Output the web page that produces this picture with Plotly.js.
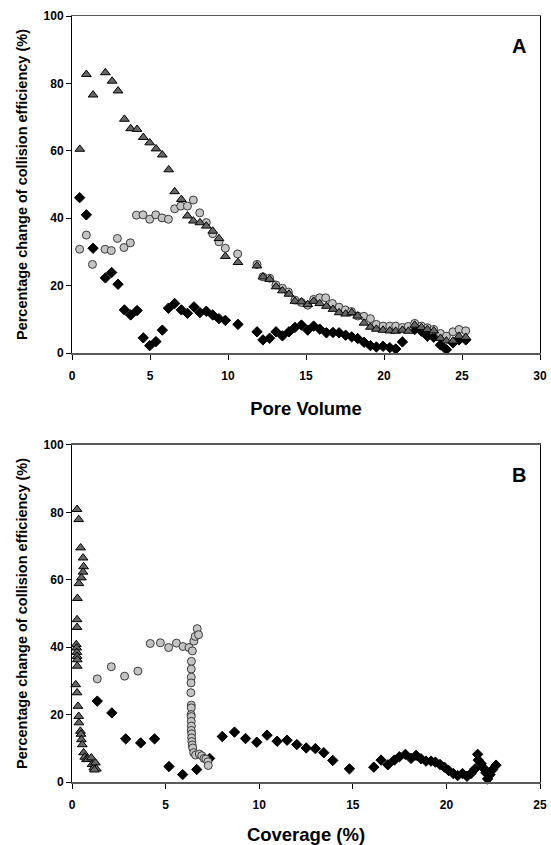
<!DOCTYPE html>
<html>
<head>
<meta charset="utf-8">
<script src="https://cdn.plot.ly/plotly-3.0.1.min.js"></script>
<style>
  html, body { margin: 0; padding: 0; background: #ffffff; }
  #chart { width: 551px; height: 845px; }
</style>
</head>
<body>
<div id="chart"></div>
<script>
// ---- Panel A: collision efficiency change vs. pore volume ----
const aTriX = [0.5, 0.92, 1.35, 2.14, 2.57, 2.95, 3.36, 3.76, 4.17, 4.57, 4.98, 5.39, 5.79, 6.2, 6.58, 7.01, 7.4, 7.78, 8.2, 8.61, 9.02, 9.42, 9.83, 10.64, 11.86, 12.24, 12.67, 13.08, 13.49, 13.91, 14.29, 14.71, 15.11, 15.49, 15.88, 16.31, 16.73, 17.12, 17.54, 17.93, 18.31, 18.72, 19.13, 19.51, 19.94, 20.37, 20.75, 21.18, 21.56, 21.97, 22.4, 22.78, 23.19, 23.62, 24.0, 24.42, 24.81, 25.24];
const aTriY = [60.5, 82.7, 76.6, 83.2, 80.7, 77.8, 69.4, 66.6, 66.4, 64, 62.4, 60.6, 58.8, 54.4, 47.9, 45.6, 40.7, 39.2, 38.7, 37.7, 36.2, 34, 28.7, 26.9, 25.9, 22.6, 21.9, 19.7, 18.5, 17.5, 15.4, 15.2, 14.4, 15.4, 14.7, 13.9, 13, 12, 11.6, 12, 11, 8.9, 7.7, 7.1, 6.8, 6.6, 6.5, 6.8, 6.5, 8.3, 7.6, 7, 6.6, 4.4, 3.6, 3.6, 5, 4.7];

const aCirX = [0.49, 0.92, 1.31, 2.12, 2.52, 2.91, 3.33, 3.74, 4.13, 4.55, 4.98, 5.37, 5.77, 6.18, 6.58, 6.97, 7.4, 7.78, 8.19, 8.61, 9.02, 9.42, 9.83, 10.62, 11.86, 12.24, 12.67, 13.07, 13.49, 13.87, 14.29, 14.71, 15.11, 15.49, 15.88, 16.26, 16.69, 17.12, 17.52, 17.91, 18.31, 18.71, 19.13, 19.51, 19.94, 20.37, 20.75, 21.18, 21.56, 21.97, 22.4, 22.78, 23.19, 23.62, 24.0, 24.42, 24.81, 25.24];
const aCirY = [30.8, 35, 26.3, 30.8, 30.4, 34, 31.3, 32.7, 40.9, 41, 39.7, 41, 40.1, 39.7, 42.8, 43.6, 43.6, 45.4, 41.6, 38.7, 35.4, 33, 31.1, 29.4, 26.3, 22.6, 22.2, 20.2, 19.2, 18.1, 15.7, 15, 14.2, 15.9, 16.4, 16.4, 14.7, 13.6, 12.8, 12.3, 11, 10.9, 10.2, 8.5, 8, 8, 8, 7.6, 7.9, 8.8, 8, 7.5, 7, 5.8, 5, 6.3, 7, 6.6];

const aDiaX = [0.49, 0.92, 1.35, 2.14, 2.54, 2.95, 3.36, 3.76, 4.17, 4.57, 4.98, 5.38, 5.79, 6.18, 6.58, 7.01, 7.4, 7.82, 8.2, 8.61, 9.02, 9.42, 9.83, 10.64, 11.86, 12.24, 12.67, 13.08, 13.49, 13.91, 14.29, 14.71, 15.11, 15.49, 15.88, 16.31, 16.73, 17.12, 17.54, 17.93, 18.31, 18.72, 19.13, 19.51, 19.94, 20.37, 20.75, 21.18, 21.97, 22.4, 22.78, 23.19, 23.62, 24.0, 24.42, 24.81, 25.24];
const aDiaY = [46.1, 41, 31.1, 22.3, 23.9, 20.4, 12.8, 11.3, 12.6, 4.5, 2.2, 3.4, 6.8, 13.3, 14.7, 12.8, 11.8, 13.7, 12, 12.4, 11.3, 10.2, 9.7, 8.5, 6.3, 3.9, 4.4, 6.3, 5.1, 6.3, 7.6, 8.3, 6.8, 8, 7.1, 6, 6.1, 6, 5.3, 4.8, 4.3, 3.2, 2.2, 1.8, 2, 1.6, 1.2, 3.3, 7, 6.5, 5, 4.7, 2.4, 1, 3, 3.9, 3.9];

// ---- Panel B: collision efficiency change vs. coverage ----
const bTriX = [0.27, 0.36, 0.46, 0.59, 0.62, 0.59, 0.5, 0.37, 0.29, 0.27, 0.27, 0.23, 0.25, 0.26, 0.27, 0.28, 0.28, 0.2, 0.27, 0.32, 0.36, 0.37, 0.45, 0.48, 0.5, 0.55, 0.62, 0.68, 0.77, 0.85, 1.03, 1.07, 1.16, 1.25, 1.3, 1.2];
const bTriY = [80.9, 77.9, 69.5, 66.5, 63.9, 62.3, 60.6, 58.9, 54.5, 48.2, 45.9, 40.8, 39.8, 38.5, 37.3, 36.3, 34.4, 28.9, 26.5, 22.5, 19.5, 17.6, 15.1, 14.2, 12.6, 11.1, 8.7, 7.4, 6.7, 6.7, 7.2, 5.2, 4.2, 5.7, 3.9, 3.6];

const bCirX = [1.35, 2.1, 2.81, 3.52, 4.18, 4.72, 5.16, 5.58, 5.93, 6.25, 6.43, 6.51, 6.58, 6.69, 6.76, 6.38, 6.37, 6.37, 6.36, 6.35, 6.37, 6.37, 6.36, 6.37, 6.37, 6.38, 6.37, 6.39, 6.39, 6.4, 6.42, 6.45, 6.5, 6.6, 6.8, 6.93, 7.05, 7.15, 7.26, 7.28];
const bCirY = [30.6, 34.2, 31.4, 32.9, 41.1, 41.3, 39.9, 41.2, 40.2, 39.9, 38.9, 41.8, 43.2, 45.5, 43.7, 35.8, 33.5, 31.1, 29.4, 26.5, 22.8, 22, 20, 19.4, 18, 16.6, 15.3, 14.3, 13.1, 12, 11, 10.1, 8.7, 8, 8.3, 7.8, 7, 6.8, 6, 4.9];

const bDiaX = [1.35, 2.13, 2.87, 3.67, 4.41, 5.18, 5.91, 6.66, 7.35, 8.03, 8.68, 9.27, 9.87, 10.42, 10.96, 11.49, 12.01, 12.51, 13.0, 13.45, 13.93, 14.82, 16.12, 16.51, 16.87, 17.22, 17.49, 17.81, 18.11, 18.38, 18.64, 18.91, 19.18, 19.41, 19.66, 19.89, 20.12, 20.37, 20.6, 20.86, 21.1, 21.31, 21.53, 21.67, 21.7, 21.85, 21.97, 22.11, 22.2, 22.33, 22.47, 22.65];
const bDiaY = [24, 20.5, 12.8, 11.6, 12.8, 4.6, 2.2, 3.7, 7, 13.5, 14.8, 12.9, 11.8, 13.9, 12.1, 12.4, 11.1, 10.1, 9.9, 8.7, 6.4, 3.9, 4.4, 6.5, 5.1, 6.5, 7.5, 8.2, 7, 7.9, 6.9, 6.2, 6.2, 5.9, 5.2, 4.4, 3.4, 2.5, 1.9, 2.5, 1.7, 2.5, 3.9, 8.2, 6.5, 5.5, 4.2, 2.7, 0.9, 2.2, 3.7, 5];

const yTicks = [0, 20, 40, 60, 80, 100];
const xTicksA = [0, 5, 10, 15, 20, 25, 30];
const xTicksB = [0, 5, 10, 15, 20, 25];

const FONT = '"Liberation Sans", Arial, sans-serif';

const triMarker = { symbol: 'triangle-up', size: 8.5, color: '#666666', line: { color: '#000000', width: 1 } };
const cirMarker = { symbol: 'circle', size: 8, color: '#c4c4c4', line: { color: '#3a3a3a', width: 1 } };
const diaMarker = { symbol: 'diamond', size: 8, color: '#000000', line: { color: '#000000', width: 1 } };

function pts(x, y, marker, xa, ya) {
  return { type: 'scatter', mode: 'markers', x: x, y: y, marker: marker,
           xaxis: xa, yaxis: ya, hoverinfo: 'skip', showlegend: false, cliponaxis: false };
}

const traces = [
  pts(aDiaX, aDiaY, diaMarker, 'x', 'y'),
  pts(aCirX, aCirY, cirMarker, 'x', 'y'),
  pts(aTriX, aTriY, triMarker, 'x', 'y'),
  pts(bDiaX, bDiaY, diaMarker, 'x2', 'y2'),
  pts(bCirX, bCirY, cirMarker, 'x2', 'y2'),
  pts(bTriX, bTriY, triMarker, 'x2', 'y2')
];

const tickFont = { family: FONT, size: 12, color: '#000000', weight: 'bold' };
const yTitleFont = { family: FONT, size: 14.5, color: '#000000', weight: 'bold' };
const xTitleFont = { family: FONT, size: 18.5, color: '#000000', weight: 'bold' };

function xAxis(range, ticks, title, anchor) {
  return {
    range: range, tickvals: ticks, ticktext: ticks.map(String),
    showgrid: false, zeroline: false,
    showline: true, linecolor: '#5a5a5a', linewidth: 1.5, mirror: true,
    ticks: 'outside', ticklen: 5, tickcolor: '#000000', tickwidth: 1,
    ticklabelstandoff: 6,
    tickfont: tickFont, anchor: anchor,
    title: { text: title, font: xTitleFont, standoff: 20 }
  };
}
function yAxis(domain, anchor) {
  return {
    range: [0, 100], domain: domain, tickvals: yTicks, ticktext: yTicks.map(String),
    showgrid: false, zeroline: false,
    showline: true, linecolor: '#000000', linewidth: 1, mirror: true,
    ticks: 'outside', ticklen: 5, tickcolor: '#000000', tickwidth: 1,
    tickfont: tickFont, anchor: anchor,
    title: { text: 'Percentage change of collision efficiency (%)', font: yTitleFont, standoff: 12 }
  };
}

const layout = {
  width: 551, height: 845,
  margin: { l: 72, r: 11, t: 16, b: 63 },
  paper_bgcolor: '#ffffff', plot_bgcolor: '#ffffff',
  showlegend: false,
  xaxis: xAxis([0, 30], xTicksA, 'Pore Volume', 'y'),
  yaxis: yAxis([0.56, 1], 'x'),
  xaxis2: xAxis([0, 25], xTicksB, 'Coverage (%)', 'y2'),
  yaxis2: yAxis([0, 0.44], 'x2'),
  annotations: [
    { text: 'A', xref: 'x domain', yref: 'y domain', x: 0.955, y: 0.91, xanchor: 'center', yanchor: 'middle',
      showarrow: false, font: { family: FONT, size: 20, color: '#000000', weight: 'bold' } },
    { text: 'B', xref: 'x2 domain', yref: 'y2 domain', x: 0.955, y: 0.91, xanchor: 'center', yanchor: 'middle',
      showarrow: false, font: { family: FONT, size: 20, color: '#000000', weight: 'bold' } }
  ]
};

Plotly.newPlot('chart', traces, layout, { displayModeBar: false, staticPlot: true });
</script>
</body>
</html>
